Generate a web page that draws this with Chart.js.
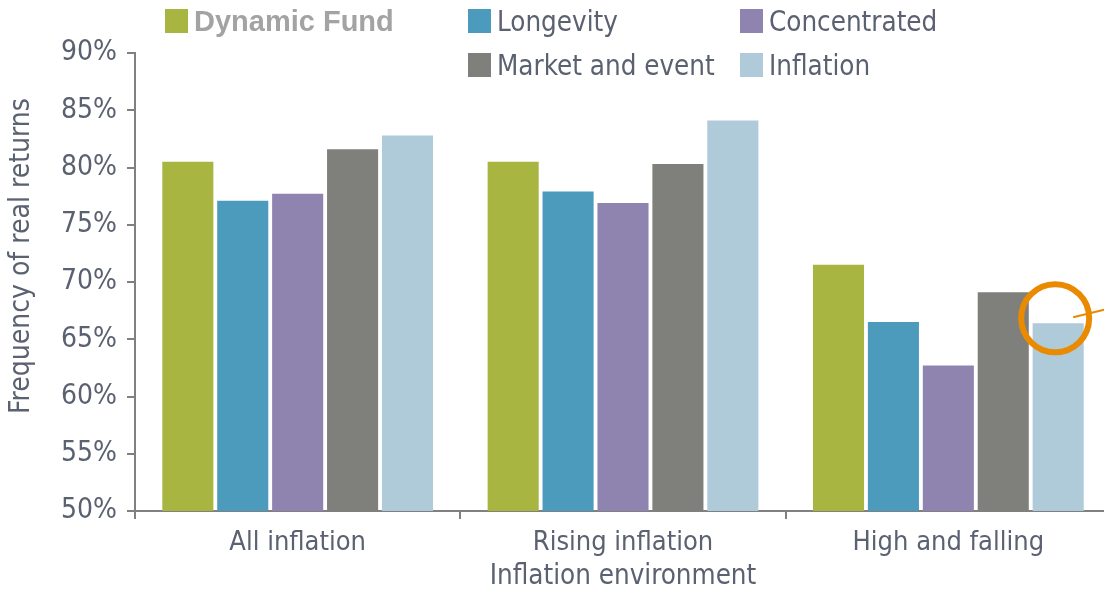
<!DOCTYPE html>
<html>
<head>
<meta charset="utf-8">
<script src="https://cdn.jsdelivr.net/npm/chart.js@4/dist/chart.umd.min.js"></script>
<style>
  html, body { margin: 0; padding: 0; background: #fff; overflow: hidden; }
  #wrap { position: relative; width: 1104px; height: 593px; overflow: hidden; }
  #legend { position: absolute; left: 0; top: 0; width: 1104px; height: 90px; pointer-events: none; }
  .item { position: absolute; display: flex; align-items: center; height: 26px;
          font-family: 'DejaVu Sans Condensed', 'Liberation Sans Narrow', sans-serif;
          font-size: 27.5px; color: #5a6170; white-space: nowrap; }
  .item span.box { display: inline-block; width: 23px; height: 24px; margin-right: 6px; }
  .item.first { font-family: 'Liberation Sans', Arial, sans-serif; font-weight: bold;
                font-size: 29px; color: #a3a3a3; }
</style>
</head>
<body>
<div id="wrap">
  <canvas id="returnsChart" width="1111" height="593"></canvas>
  <div id="legend"></div>
</div>
<script>
// categories and series
const categories = ['All inflation', 'Rising inflation', 'High and falling'];
const seriesNames = ['Dynamic Fund', 'Longevity', 'Concentrated', 'Market and event', 'Inflation'];
const seriesColors = ['#a9b541', '#4c9bbd', '#8f83b0', '#7f807b', '#afcad8'];

const dynamicFund = [80.5, 80.5, 71.5];
const longevity = [77.1, 77.9, 66.5];
const concentrated = [77.7, 76.9, 62.7];
const marketEvent = [81.6, 80.3, 69.1];
const inflation = [82.8, 84.1, 66.4];

const yTicks = [50, 55, 60, 65, 70, 75, 80, 85, 90];
const yTitle = 'Frequency of real returns';

const FONT = "'DejaVu Sans Condensed', 'Liberation Sans Narrow', sans-serif";
const TEXT = '#5a6170';
const AXIS = '#808080';

// legend, laid out in two rows
const legendPos = [
  { x: 165, y: 8 }, { x: 468, y: 8 }, { x: 740, y: 8 },
  { x: 468, y: 52 }, { x: 740, y: 52 }
];
const legendEl = document.getElementById('legend');
seriesNames.forEach((name, i) => {
  const d = document.createElement('div');
  d.className = 'item' + (i === 0 ? ' first' : '');
  d.style.left = legendPos[i].x + 'px';
  d.style.top = legendPos[i].y + 'px';
  d.innerHTML = '<span class="box" style="background:' + seriesColors[i] + '"></span>' + name;
  legendEl.appendChild(d);
});

// y title sits a bit above the middle of the axis
const yTitlePlugin = {
  id: 'yTitlePlugin',
  afterDraw(chart) {
    const ctx = chart.ctx;
    ctx.save();
    ctx.translate(22, 256);
    ctx.rotate(-Math.PI / 2);
    ctx.font = "28px " + FONT;
    ctx.fillStyle = TEXT;
    ctx.textAlign = 'center';
    ctx.textBaseline = 'middle';
    ctx.fillText(yTitle, 0, 0);
    ctx.restore();
  }
};

// orange ring around the last bar of the last group
const highlight = {
  id: 'highlight',
  afterDatasetsDraw(chart) {
    const bar = chart.getDatasetMeta(4).data[2];
    if (!bar) return;
    const ctx = chart.ctx;
    ctx.save();
    ctx.strokeStyle = '#ea8a00';
    ctx.lineWidth = 6;
    ctx.beginPath();
    ctx.arc(bar.x - 3, bar.y - 5, 34, 0, Math.PI * 2);
    ctx.stroke();
    ctx.lineWidth = 2;
    ctx.beginPath();
    ctx.moveTo(bar.x + 15, bar.y - 6);
    ctx.lineTo(bar.x + 48, bar.y - 14);
    ctx.stroke();
    ctx.restore();
  }
};

const values = [dynamicFund, longevity, concentrated, marketEvent, inflation];

new Chart(document.getElementById('returnsChart'), {
  type: 'bar',
  data: {
    labels: categories,
    datasets: seriesNames.map((name, i) => ({
      label: name,
      data: values[i],
      backgroundColor: seriesColors[i],
      categoryPercentage: 0.844,
      barPercentage: 0.93
    }))
  },
  options: {
    responsive: false,
    animation: false,
    layout: { padding: { top: 53, left: 0, right: 0, bottom: 0 } },
    plugins: {
      legend: { display: false },
      tooltip: { enabled: false }
    },
    scales: {
      x: {
        afterFit: s => { s.height = 82; },
        border: { display: true, color: AXIS, width: 2 },
        grid: { display: true, drawOnChartArea: false, drawTicks: true, tickLength: 8, color: AXIS, lineWidth: 2, offset: true },
        ticks: { color: TEXT, font: { family: FONT, size: 27 }, padding: 8, maxRotation: 0 },
        title: { display: true, text: 'Inflation environment', color: TEXT, font: { family: FONT, size: 27.5 }, padding: { top: 0, bottom: 0 } }
      },
      y: {
        min: 50,
        max: 90,
        afterFit: s => { s.width = 135; },
        afterBuildTicks: s => { s.ticks = yTicks.map(v => ({ value: v })); },
        border: { display: true, color: AXIS, width: 2 },
        grid: { display: true, drawOnChartArea: false, drawTicks: true, tickLength: 8, color: AXIS, lineWidth: 2 },
        ticks: { color: TEXT, font: { family: FONT, size: 28 }, padding: 10, callback: v => v + '%' }
      }
    }
  },
  plugins: [highlight, yTitlePlugin]
});
</script>
</body>
</html>
